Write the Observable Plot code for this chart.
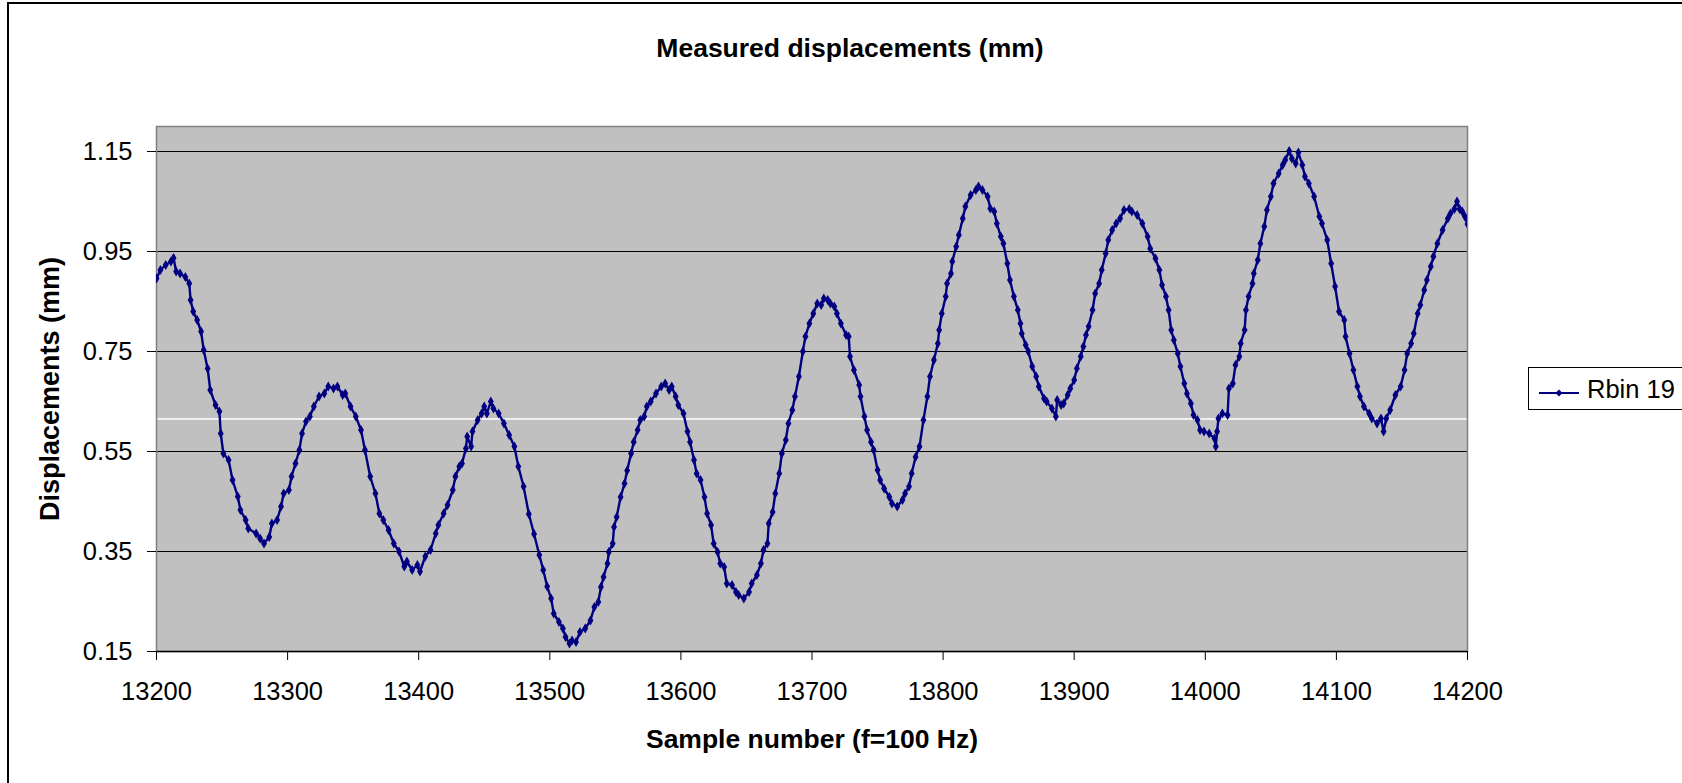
<!DOCTYPE html>
<html>
<head>
<meta charset="utf-8">
<script src="https://cdn.jsdelivr.net/npm/d3@7"></script>
<script src="https://cdn.jsdelivr.net/npm/@observablehq/plot@0.6"></script>
<style>
  html, body { margin: 0; padding: 0; background: #fff; }
  body { width: 1682px; height: 783px; overflow: hidden; position: relative;
         font-family: Arial, "Liberation Sans", sans-serif; color: #000; }
  #frame { position: absolute; left: 7px; top: 2px; width: 1720px; height: 820px;
           border: 2px solid #000; box-sizing: border-box; }
  #chart { position: absolute; left: 0; top: 0; }
  .title { position: absolute; font-weight: bold; font-size: 26.5px; line-height: 1; white-space: nowrap; text-align: center; }
  #legend { position: absolute; left: 1528px; top: 367px; width: 180px; height: 43px;
            border: 1px solid #000; background: #fff; box-sizing: border-box; }
  #legend .lbl { position: absolute; left: 58px; top: 9px; font-size: 25.5px; line-height: 1; white-space: nowrap; }
  #legend svg { position: absolute; left: 9px; top: 14px; }
</style>
</head>
<body>
<div id="frame"></div>
<div id="chart"></div>
<div class="title" id="mainTitle" style="left:0; width:1700px; top:35px;"></div>
<div class="title" id="xTitle" style="left:312px; width:1000px; top:726px;"></div>
<div class="title" id="yTitle" style="left:-150px; width:400px; top:376px; font-size:27px; transform: rotate(-90deg); transform-origin: 200px 13px;"></div>
<div id="legend">
  <svg width="44" height="22"><line x1="1" y1="11" x2="41" y2="11" stroke="#000080" stroke-width="2"/><path d="M21,7.5 L24.5,11 L21,14.5 L17.5,11 Z" fill="#000080"/></svg>
  <div class="lbl" id="legendLabel"></div>
</div>
<script>
const chartTitle = "Measured displacements (mm)";
const xAxisTitle = "Sample number (f=100 Hz)";
const yAxisTitle = "Displacements (mm)";
const seriesName = "Rbin 19";
const xTicks = [13200, 13300, 13400, 13500, 13600, 13700, 13800, 13900, 14000, 14100, 14200];
const yTicks = [0.15, 0.35, 0.55, 0.75, 0.95, 1.15];
const whiteRuleValue = 0.615;

const samples = [
13200,13203,13207,13211,13213,13215,13218,13222,13225,13226,13228,13231,13234,13236,13239,13241,13245,13248,13249,13251,
13255,13258,13262,13264,13268,13270,13276,13279,13282,13286,13288,13292,13295,13297,13301,13303,13306,13309,13311,13314,
13317,13320,13324,13328,13331,13335,13338,13342,13344,13348,13352,13356,13359,13363,13367,13370,13373,13377,13381,13385,
13389,13391,13395,13399,13401,13405,13409,13413,13415,13419,13422,13426,13428,13431,13433,13436,13437,13440,13441,13445,
13448,13450,13452,13455,13457,13461,13465,13469,13473,13476,13480,13484,13488,13492,
13495,13498,13501,13503,13507,13510,13512,13515,13517,13520,13523,13527,13531,13534,13537,13539,13541,13544,13545,13548,
13549,13551,13554,13557,13559,13562,13564,13567,13569,13572,13574,13577,13581,13585,13588,13591,13593,13596,13598,13602,
13605,13607,13610,13612,13615,13618,13620,13623,13625,13628,13630,13633,13635,13639,13642,13644,13648,13652,13654,13658,
13661,13663,13666,13667,13670,13672,13675,13677,13680,13682,13685,13687,13690,13693,13695,13698,13701,13704,13707,13709,
13712,13714,13717,13719,13722,13726,13728,13729,13732,13736,13737,13740,13742,13745,13747,13750,13752,13755,13759,13761,
13765,13769,13771,13774,13776,13779,13782,
13785,13788,13790,13793,13796,13797,13799,13802,13803,13806,13807,13810,13812,13815,13817,13821,13825,13827,13830,13834,
13836,13839,13841,13844,13846,13849,13851,13854,13857,13859,13860,13863,13865,13868,13871,13873,13877,13879,13883,13886,
13887,13890,13892,13895,13897,13900,13902,13905,13907,13909,13911,13914,13916,13919,13921,13924,13926,13929,13932,13935,
13938,13942,13944,13948,13952,13956,13958,13962,13965,13967,13970,13972,13974,13976,13979,13981,13984,13986,13989,13991,
13994,13996,13999,14003,14007,14008,14009,14010,14013,14017,14018,14021,14023,14026,14027,14030,14031,14033,
14036,14037,14040,14042,14045,14047,14050,14052,14056,14059,14061,14064,14066,14069,14071,14074,14076,14079,14083,14087,
14089,14093,14096,14099,14102,14106,14107,14110,14113,14116,14118,14121,14125,14127,14131,14134,14136,14138,14141,14145,
14149,14152,14154,14157,14159,14162,14164,14167,14169,14172,14174,14177,14181,14185,14187,14190,14192,14194,14196,14198,14200
];

const displacements = [
0.896,0.913,0.923,0.930,0.937,0.910,0.906,0.899,0.886,0.853,0.830,0.813,0.790,0.753,0.716,0.673,0.643,0.630,0.586,0.546,
0.533,0.493,0.460,0.433,0.413,0.396,0.386,0.376,0.366,0.379,0.406,0.413,0.440,0.466,0.473,0.500,0.526,0.553,0.586,0.610,
0.620,0.640,0.660,0.666,0.680,0.676,0.680,0.663,0.666,0.640,0.620,0.593,0.553,0.500,0.466,0.426,0.413,0.393,0.366,0.350,
0.320,0.330,0.313,0.323,0.310,0.340,0.353,0.386,0.403,0.426,0.443,0.473,0.500,0.520,0.526,0.556,0.580,0.560,0.590,0.613,
0.626,0.640,0.626,0.650,0.636,0.626,0.606,0.583,0.560,0.520,0.480,0.425,0.385,0.343,
0.313,0.280,0.256,0.226,0.209,0.196,0.179,0.166,0.172,0.169,0.189,0.196,0.212,0.239,0.249,0.279,0.299,0.326,0.349,0.366,
0.399,0.419,0.459,0.486,0.512,0.546,0.569,0.593,0.613,0.620,0.640,0.650,0.666,0.680,0.686,0.673,0.680,0.660,0.643,0.626,
0.590,0.569,0.533,0.506,0.493,0.459,0.426,0.403,0.366,0.349,0.326,0.319,0.286,0.283,0.269,0.263,0.256,0.269,0.286,0.303,
0.326,0.353,0.366,0.406,0.429,0.466,0.506,0.546,0.573,0.606,0.633,0.660,0.700,0.750,0.780,0.806,0.826,0.846,0.843,0.856,
0.853,0.846,0.840,0.826,0.806,0.783,0.780,0.740,0.713,0.683,0.660,0.620,0.593,0.569,0.553,0.513,0.493,0.476,0.459,0.446,
0.440,0.453,0.466,0.480,0.506,0.539,0.560,
0.613,0.660,0.700,0.733,0.766,0.793,0.826,0.860,0.886,0.906,0.930,0.960,0.983,1.016,1.040,1.063,1.073,1.080,1.073,1.060,
1.036,1.030,1.006,0.980,0.966,0.926,0.893,0.860,0.833,0.806,0.786,0.763,0.750,0.720,0.700,0.680,0.656,0.650,0.636,0.620,
0.653,0.643,0.646,0.663,0.676,0.693,0.716,0.740,0.760,0.783,0.800,0.833,0.866,0.886,0.913,0.946,0.973,0.993,1.006,1.016,
1.033,1.035,1.030,1.023,1.006,0.980,0.956,0.936,0.913,0.883,0.860,0.833,0.793,0.773,0.746,0.720,0.686,0.666,0.646,0.623,
0.613,0.593,0.590,0.586,0.576,0.560,0.590,0.616,0.626,0.623,0.676,0.686,0.723,0.740,0.766,0.793,0.833,0.860,
0.886,0.906,0.933,0.966,1.000,1.033,1.060,1.086,1.106,1.123,1.133,1.151,1.136,1.126,1.148,1.123,1.100,1.086,1.060,1.020,
1.006,0.973,0.926,0.880,0.830,0.813,0.780,0.746,0.713,0.680,0.660,0.640,0.626,0.616,0.606,0.616,0.590,0.616,0.633,0.663,
0.680,0.713,0.746,0.766,0.786,0.826,0.843,0.873,0.893,0.920,0.940,0.966,0.993,1.016,1.026,1.035,1.050,1.035,1.030,1.020,1.005
];

const data = samples.map((s, i) => ({sample: s, value: displacements[i]}));

document.getElementById("mainTitle").textContent = chartTitle;
document.getElementById("xTitle").textContent = xAxisTitle;
document.getElementById("yTitle").textContent = yAxisTitle;
document.getElementById("legendLabel").textContent = seriesName;

const navy = "#000080";
const chart = Plot.plot({
  width: 1682,
  height: 783,
  marginLeft: 156,
  marginRight: 215,
  marginTop: 126,
  marginBottom: 132,
  x: {domain: [13200, 14200], label: null},
  y: {domain: [0.15, 1.2], label: null},
  style: {background: "transparent", fontFamily: "Arial, 'Liberation Sans', sans-serif", color: "#000", overflow: "visible"},
  marks: [
    Plot.frame({fill: "#c0c0c0", stroke: "none"}),
    Plot.gridY(yTicks.filter(t => t > 0.15), {stroke: "#000", strokeOpacity: 1, strokeWidth: 1}),
    Plot.ruleY([whiteRuleValue], {stroke: "#fff", strokeWidth: 1.5}),
    Plot.frame({stroke: "#808080", strokeWidth: 1.5, fill: "none"}),
    Plot.ruleY([0.15], {stroke: "#000", strokeWidth: 1.5}),
    Plot.axisY({ticks: yTicks, tickFormat: d => d.toFixed(2), tickSize: 9, tickPadding: 15, fontSize: 25.5, label: null, stroke: "#000"}),
    Plot.axisX({ticks: xTicks, tickFormat: d => String(d), tickSize: 9, tickPadding: 21, fontSize: 25.5, label: null, stroke: "#000"}),
    Plot.line(data, {x: "sample", y: "value", stroke: navy, strokeWidth: 2.4, clip: true}),
    Plot.dot(data, {x: "sample", y: "value", symbol: "diamond", r: 3.1, fill: navy, stroke: "none", clip: true})
  ]
});
document.getElementById("chart").appendChild(chart);
</script>
</body>
</html>
